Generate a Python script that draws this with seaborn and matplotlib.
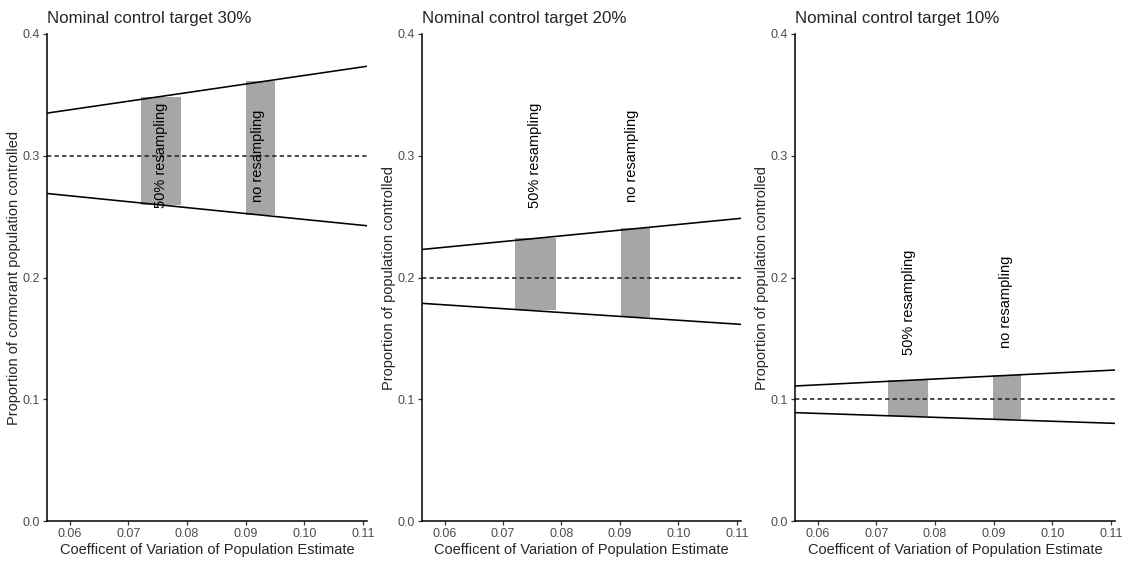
import matplotlib
matplotlib.use("Agg")
import matplotlib.pyplot as plt
import seaborn as sns
import pandas as pd

# ---- data ----
titles = ["Nominal control target 30%", "Nominal control target 20%", "Nominal control target 10%"]
ylabels = ["Proportion of cormorant population controlled",
           "Proportion of population controlled",
           "Proportion of population controlled"]
targets = [0.30, 0.20, 0.10]
line_cv = [0.0561, 0.1107]
upper_vals = [[0.335, 0.3735], [0.223, 0.2486], [0.1109, 0.124]]
lower_vals = [[0.269, 0.2425], [0.1788, 0.1615], [0.0890, 0.0802]]

bar_names = ["50% resampling", "no resampling"]
bar_cv_start = [[0.0721, 0.0901], [0.0720, 0.0901], [0.0719, 0.0898]]
bar_cv_end = [[0.0790, 0.0950], [0.0790, 0.0951], [0.0788, 0.0946]]
bar_top = [[0.3485, 0.3614], [0.2327, 0.2404], [0.1158, 0.1199]]
bar_bottom = [[0.2595, 0.2513], [0.1733, 0.1673], [0.0862, 0.0835]]
label_cv = [0.0755, 0.0921]
label_y = [0.30, 0.30, 0.18]

x_ticks = [0.06, 0.07, 0.08, 0.09, 0.10, 0.11]
x_ticklabels = ["0.06", "0.07", "0.08", "0.09", "0.10", "0.11"]
y_ticks = [0.0, 0.1, 0.2, 0.3, 0.4]
y_ticklabels = ["0.0", "0.1", "0.2", "0.3", "0.4"]

sns.set_style("ticks")
plt.rcParams['font.family'] = ['Liberation Sans', 'DejaVu Sans']

fig = plt.figure(figsize=(11.22, 5.61), dpi=100)
lefts = [47, 421.7, 795]
rights = [367, 741, 1115]
W, H = 1122, 561
for i in range(3):
    ax = fig.add_axes([lefts[i] / W, 1 - 521 / H, (rights[i] - lefts[i]) / W, (521 - 34) / H])
    df = pd.DataFrame({
        "cv": line_cv * 2,
        "val": upper_vals[i] + lower_vals[i],
        "bound": ["upper"] * 2 + ["lower"] * 2,
    })
    # bars
    for j in range(2):
        ax.bar(bar_cv_start[i][j], bar_top[i][j] - bar_bottom[i][j],
               width=bar_cv_end[i][j] - bar_cv_start[i][j], bottom=bar_bottom[i][j],
               align="edge", color="#A6A6A6", edgecolor="none", zorder=1)
    sns.lineplot(data=df, x="cv", y="val", units="bound", estimator=None,
                 color="black", linewidth=1.15, ax=ax, zorder=3)
    ax.axhline(targets[i], color="#222222", linestyle=(0, (2.7, 2.0)), linewidth=1.15, zorder=2)
    for j in range(2):
        ax.text(label_cv[j], label_y[i], bar_names[j], rotation=90, ha="center", va="center",
                fontsize=10.5, color="black", zorder=4)
    ax.set_xlim(0.0561, 0.1107)
    ax.set_ylim(0, 0.4)
    ax.set_xticks(x_ticks)
    ax.set_xticklabels(x_ticklabels)
    ax.set_yticks(y_ticks)
    ax.set_yticklabels(y_ticklabels)
    ax.tick_params(axis="both", labelsize=9, labelcolor="#4D4D4D", color="#333333",
                   length=3, width=0.9, pad=2)
    for s in ["left", "bottom"]:
        ax.spines[s].set_linewidth(1.1)
        ax.spines[s].set_color("black")
    sns.despine(ax=ax)
    ax.set_xlabel("Coefficent of Variation of Population Estimate", fontsize=10.5, labelpad=2)
    ax.set_ylabel(ylabels[i], fontsize=10.5, labelpad=1)
    ax.set_title(titles[i], loc="left", fontsize=12.2, pad=8)

fig.savefig("out.png", dpi=100)
